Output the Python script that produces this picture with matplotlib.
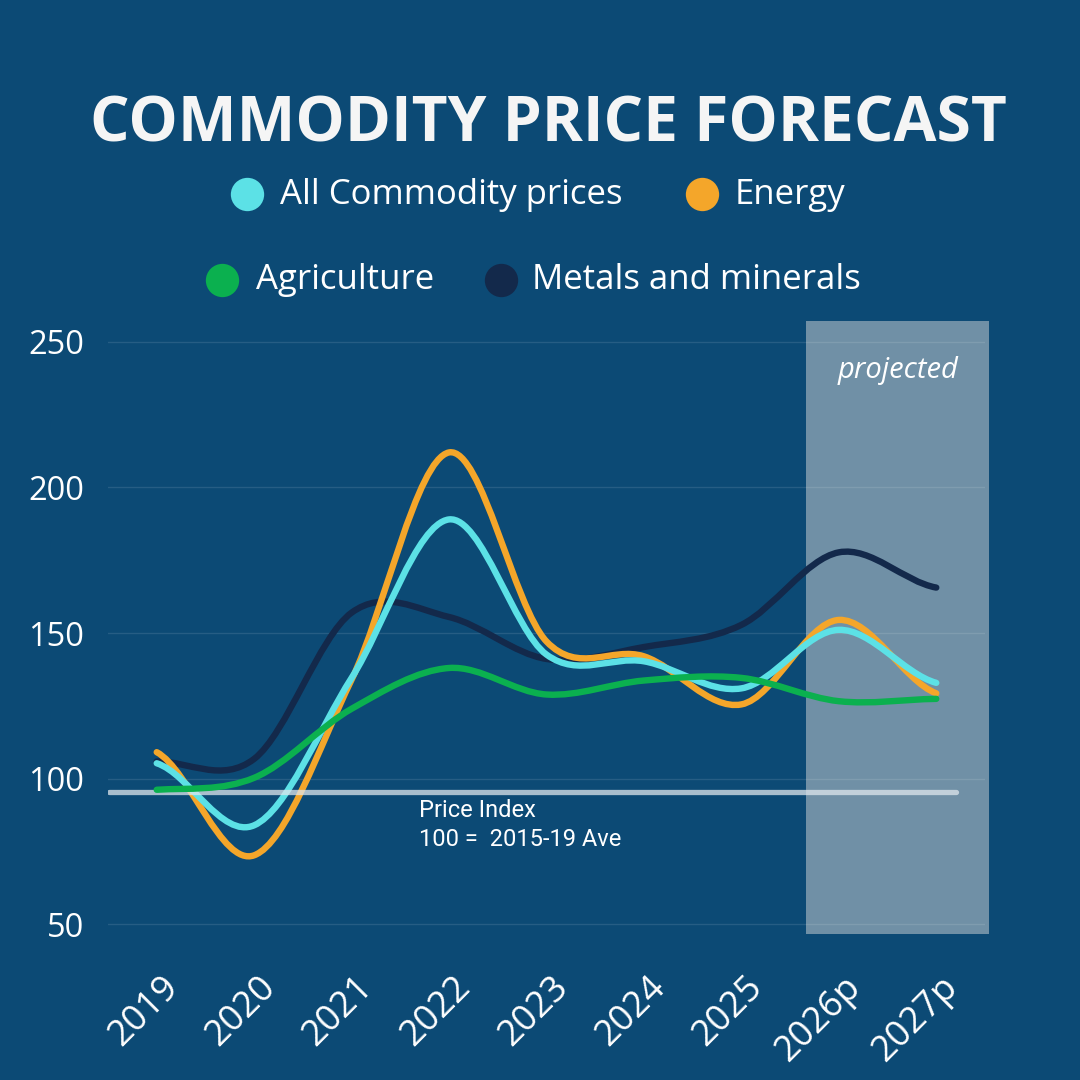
import numpy as np
import matplotlib
matplotlib.use("Agg")
import matplotlib.pyplot as plt
from matplotlib.path import Path
from matplotlib.patches import PathPatch, Rectangle
from matplotlib.lines import Line2D
from matplotlib.transforms import ScaledTranslation

plt.rcParams['font.family'] = ['Open Sans', 'DejaVu Sans']

# ---------------- data ----------------
years = ["2019", "2020", "2021", "2022", "2023", "2024", "2025", "2026p", "2027p"]
all_commodity = [105.3, 84.0, 134.6, 189.0, 142.6, 140.3, 131.0, 151.1, 132.9]
energy = [109.1, 73.7, 134.0, 212.0, 147.1, 142.0, 125.5, 154.5, 129.3]
agriculture = [96.2, 100.3, 124.0, 138.0, 128.9, 133.7, 134.6, 126.6, 127.4]
metals = [105.9, 106.8, 157.0, 155.5, 141.1, 145.2, 152.8, 177.7, 165.6]
series_names = ["All Commodity prices", "Energy", "Agriculture", "Metals and minerals"]
series_colors = ["#5ce1e6", "#f4a62a", "#0bb04f", "#13294b"]
yticks = [50, 100, 150, 200, 250]
baseline_value = 95.5
baseline_label = "Price Index\n100 =  2015-19 Ave"
projected_label = "projected"
title = "COMMODITY PRICE FORECAST"

BG = "#0c4a75"


def smooth_path(xs, ys):
    """Catmull-Rom spline through the points, as cubic Bezier segments."""
    xs = np.asarray(xs, float)
    ys = np.asarray(ys, float)
    n = len(xs)
    m = np.zeros(n)
    for k in range(1, n - 1):
        m[k] = (ys[k + 1] - ys[k - 1]) / (xs[k + 1] - xs[k - 1])
    m[0] = 0.5 * (ys[1] - ys[0]) / (xs[1] - xs[0])
    m[-1] = 0.5 * (ys[-1] - ys[-2]) / (xs[-1] - xs[-2])
    verts = [(xs[0], ys[0])]
    codes = [Path.MOVETO]
    for k in range(n - 1):
        dx = (xs[k + 1] - xs[k]) / 3
        verts += [(xs[k] + dx, ys[k] + m[k] * dx),
                  (xs[k + 1] - dx, ys[k + 1] - m[k + 1] * dx),
                  (xs[k + 1], ys[k + 1])]
        codes += [Path.CURVE4] * 3
    return Path(verts, codes)


W = H = 1080
fig = plt.figure(figsize=(10.8, 10.8), dpi=100, facecolor=BG)


def fx(px):
    return px / W


def fy(py):
    return 1 - py / H


ax = fig.add_axes([fx(108), fy(938.9), fx(985) - fx(108), fy(312.6) - fy(938.9)])
ax.set_facecolor(BG)
x = np.arange(len(years))
ax.set_xlim(-0.5, 8.5)
ax.set_ylim(45, 260)

for s in ax.spines.values():
    s.set_visible(False)

# projected band
ax.add_patch(Rectangle((6.66, 46.6), 8.54 - 6.66, 257.0 - 46.6, facecolor="#7090a6",
                       edgecolor="none", zorder=0.5, clip_on=False))
ax.text(7.61, 240.1, projected_label, style="italic", fontsize=21, color="white",
        ha="center", va="center", zorder=5)

# gridlines
ax.set_yticks(yticks)
ax.yaxis.grid(True, color="#ffffff", alpha=0.11, linewidth=1.0)
for gl in ax.get_ygridlines():
    gl.set_zorder(1)
ax.tick_params(axis="y", length=0, pad=17, labelsize=23.5, labelcolor="white")

ax.set_xticks(x)
ax.set_xticklabels(years, rotation=45, ha="right")
ax.tick_params(axis="x", length=0, pad=22, labelsize=26, labelcolor="white")
off = ScaledTranslation(29 / 100, 0, fig.dpi_scale_trans)
for lab in ax.get_xticklabels():
    lab.set_transform(lab.get_transform() + off)

# lines
data = [all_commodity, energy, agriculture, metals]
for i in [3, 1, 0]:
    ax.add_patch(PathPatch(smooth_path(x, data[i]), facecolor="none",
                           edgecolor=series_colors[i], linewidth=4.6,
                           capstyle="round", joinstyle="round", zorder=3))

# baseline
ax.plot([-0.49, 8.2], [baseline_value, baseline_value], color="#dfe6ec", alpha=0.75,
        linewidth=3.8, solid_capstyle="round", zorder=3.5)
ax.add_patch(PathPatch(smooth_path(x, data[2]), facecolor="none",
                       edgecolor=series_colors[2], linewidth=4.6,
                       capstyle="round", joinstyle="round", zorder=4))
ax.text(2.69, 93.0, baseline_label, fontsize=17, color="white", ha="left", va="top",
        family=["Roboto", "DejaVu Sans"], linespacing=1.35, zorder=5)

# title
fig.text(fx(548), fy(142), title, fontsize=44.8, fontweight="bold", color="#f5f5f5",
         ha="center", va="baseline")

# legend
leg_pos = [(247, 194, 280, 204), (702, 194, 735, 204),
           (222, 280, 256, 289), (501, 280, 532, 289)]
for (cx, cy, tx, ty), name, col in zip(leg_pos, series_names, series_colors):
    fig.add_artist(Line2D([fx(cx)], [fy(cy)], marker="o", markersize=24,
                          markerfacecolor=col, markeredgecolor="none",
                          transform=fig.transFigure))
    fig.text(fx(tx), fy(ty), name, fontsize=25, color="white", ha="left",
             va="baseline")

fig.savefig("out.png", dpi=100, facecolor=BG)
